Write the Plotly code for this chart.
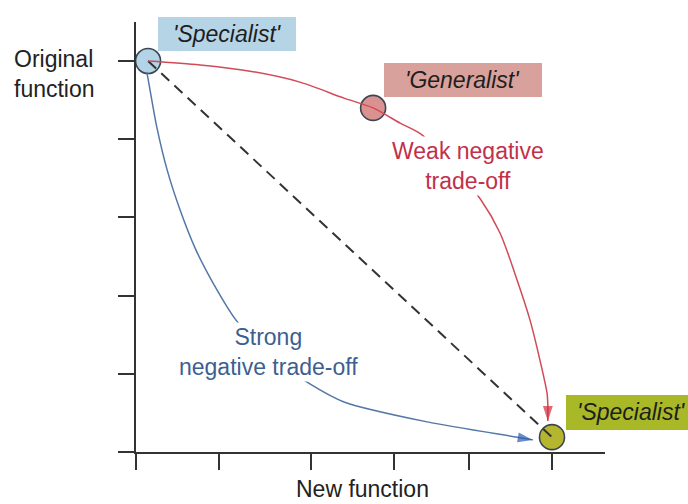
import plotly.graph_objects as go

W, H = 688, 504
FONT = "Liberation Sans, Arial, Helvetica, sans-serif"

# ---------------- data ----------------
# x: "New function", y: "Original function" (arbitrary units)
x_ticks = [0, 0.2, 0.42, 0.62, 0.8, 1.0]
y_ticks = [0, 0.2, 0.4, 0.6, 0.8, 1.0]

point_names = ["'Specialist'", "'Generalist'", "'Specialist'"]
point_x = [0.029, 0.570, 1.0]
point_y = [1.0, 0.880, 0.038]
point_fill = ["#b3d3e6", "#d9928f", "#b5b52e"]

diag_x = [0.029, 1.0]
diag_y = [1.0, 0.038]

weak_x = [0.029, 0.154, 0.274, 0.394, 0.500, 0.570, 0.635, 0.685, 0.757, 0.829,
          0.875, 0.916, 0.947, 0.971, 0.988, 0.990, 0.990]
weak_y = [1.000, 0.990, 0.974, 0.946, 0.905, 0.880, 0.841, 0.813, 0.737, 0.645,
          0.560, 0.440, 0.338, 0.235, 0.151, 0.120, 0.079]

strong_x = [0.026, 0.038, 0.050, 0.075, 0.106, 0.144, 0.188, 0.240, 0.322, 0.423,
            0.500, 0.700, 0.916, 0.954]
strong_y = [0.972, 0.900, 0.831, 0.721, 0.619, 0.517, 0.427, 0.338, 0.246, 0.171,
            0.128, 0.077, 0.038, 0.031]

# axis extents (data units)
x_axis_end = 1.1274
y_axis_end = 1.0997
x_arrow_tip = 1.1466
y_arrow_tip = 1.110

# ---------------- helpers for layout positions ----------------
def px(x):
    return x / W

def py(y):
    return 1 - y / H

fig = go.Figure()

# circles (drawn first so the curves run over them)
fig.add_trace(go.Scatter(
    x=point_x, y=point_y, mode="markers", cliponaxis=False,
    marker=dict(size=25, color=point_fill, line=dict(color="#3a4650", width=1.6)),
    hoverinfo="skip"))

# dashed diagonal
fig.add_trace(go.Scatter(
    x=diag_x, y=diag_y, mode="lines",
    line=dict(color="#333333", width=2, dash="11px,7px"), hoverinfo="skip"))

# weak negative trade-off (red)
fig.add_trace(go.Scatter(
    x=weak_x, y=weak_y, mode="lines",
    line=dict(color="#d24a57", width=1.5, shape="spline", smoothing=0.8),
    hoverinfo="skip"))
fig.add_trace(go.Scatter(
    x=weak_x[-2:], y=weak_y[-2:], mode="markers", cliponaxis=False,
    marker=dict(symbol=["circle", "arrow"], size=[0, 16], color="#d42a3a",
                angleref="previous", line=dict(width=0)),
    hoverinfo="skip"))

# strong negative trade-off (blue)
fig.add_trace(go.Scatter(
    x=strong_x, y=strong_y, mode="lines",
    line=dict(color="#5577a8", width=1.5, shape="spline", smoothing=0.8),
    hoverinfo="skip"))
fig.add_trace(go.Scatter(
    x=strong_x[-2:], y=strong_y[-2:], mode="markers", cliponaxis=False,
    marker=dict(symbol=["circle", "arrow"], size=[0, 16], color="#2a5cb0",
                angleref="previous", line=dict(width=0)),
    hoverinfo="skip"))

# axis arrowheads
fig.add_trace(go.Scatter(
    x=[0, x_arrow_tip], y=[y_arrow_tip, 0], mode="markers", cliponaxis=False,
    marker=dict(symbol="arrow", size=16, angle=[0, 90], color="#111111", line=dict(width=0)),
    hoverinfo="skip"))

axis_common = dict(showgrid=False, zeroline=False, showline=True, linecolor="#333333",
                   linewidth=2, ticks="outside", ticklen=16, tickwidth=1.6,
                   tickcolor="#333333", showticklabels=False, fixedrange=True)

shapes = [
    dict(type="rect", xref="paper", yref="paper", x0=px(158), x1=px(296), y0=py(51), y1=py(17),
         fillcolor="#b5d4e6", line=dict(width=0), layer="below"),
    dict(type="rect", xref="paper", yref="paper", x0=px(384), x1=px(542), y0=py(97), y1=py(63),
         fillcolor="#d9a19c", line=dict(width=0), layer="below"),
    dict(type="rect", xref="paper", yref="paper", x0=px(566), x1=px(692), y0=py(430), y1=py(395),
         fillcolor="#a9b827", line=dict(width=0), layer="below"),
]

lab_font = dict(family=FONT, size=23, color="#1e1e1e")
annotations = [
    dict(text="<i>" + point_names[0] + "</i>", x=px(228), y=py(34), xref="paper", yref="paper",
         showarrow=False, font=lab_font, xanchor="center", yanchor="middle"),
    dict(text="<i>" + point_names[1] + "</i>", x=px(462), y=py(80), xref="paper", yref="paper",
         showarrow=False, font=lab_font, xanchor="center", yanchor="middle"),
    dict(text="<i>" + point_names[2] + "</i>", x=px(631), y=py(412), xref="paper", yref="paper",
         showarrow=False, font=lab_font, xanchor="center", yanchor="middle"),
    dict(text="Weak negative<br>trade-off", x=px(468), y=py(166), xref="paper", yref="paper",
         showarrow=False, font=dict(family=FONT, size=23, color="#c2304a"),
         xanchor="center", yanchor="middle", align="center", bgcolor="white"),
    dict(text="Strong<br>negative trade-off", x=px(268), y=py(352), xref="paper", yref="paper",
         showarrow=False, font=dict(family=FONT, size=23, color="#3d5f90"),
         xanchor="center", yanchor="middle", align="center", bgcolor="white"),
    dict(text="Original<br>function", x=px(12), y=py(74), xref="paper", yref="paper",
         showarrow=False, font=dict(family=FONT, size=23, color="#222222"),
         xanchor="left", yanchor="middle", align="left"),
    dict(text="New function", x=px(362), y=py(489), xref="paper", yref="paper",
         showarrow=False, font=dict(family=FONT, size=23, color="#222222"),
         xanchor="center", yanchor="middle"),
]

fig.update_layout(
    width=W, height=H, margin=dict(l=0, r=0, t=0, b=0),
    paper_bgcolor="white", plot_bgcolor="white", showlegend=False,
    xaxis=dict(domain=[px(136), px(605)], range=[0, x_axis_end], tickvals=x_ticks, **axis_common),
    yaxis=dict(domain=[py(452), py(22)], range=[0, y_axis_end], tickvals=y_ticks, **axis_common),
    shapes=shapes, annotations=annotations,
)

fig.write_html(
    "out.html",
    config={"displayModeBar": False},
    post_script="document.body.style.margin='0';document.body.style.overflow='hidden';",
)
